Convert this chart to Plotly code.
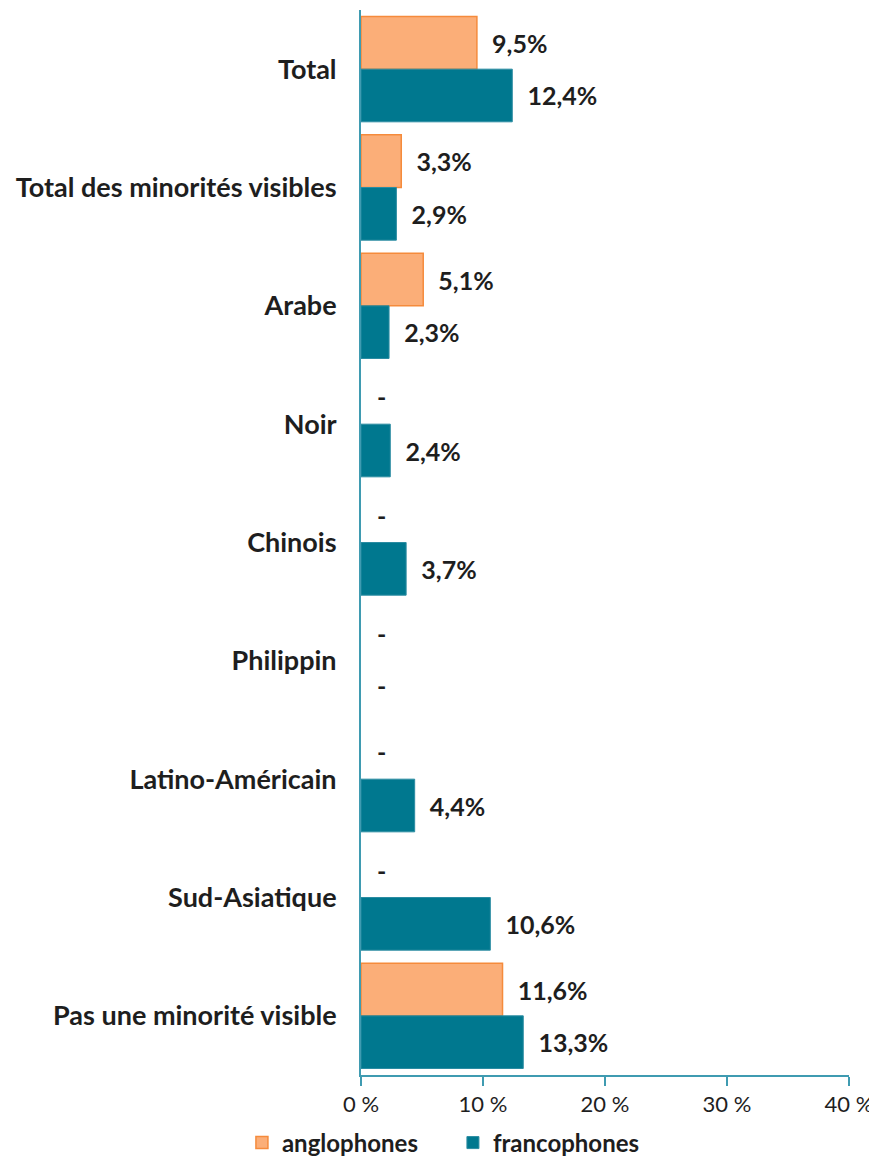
import plotly.graph_objects as go

categories = ["Total", "Total des minorités visibles", "Arabe", "Noir", "Chinois",
              "Philippin", "Latino-Américain", "Sud-Asiatique", "Pas une minorité visible"]
anglophones = [9.5, 3.3, 5.1, None, None, None, None, None, 11.6]
francophones = [12.4, 2.9, 2.3, 2.4, 3.7, None, 4.4, 10.6, 13.3]
tick_vals = [0, 10, 20, 30, 40]
tick_text = ["0 %", "10 %", "20 %", "30 %", "40 %"]

FONT = "Lato"
TXT = "#1e1e1e"
PAD = "\u00a0\u00a0"
LBL = 25


def fmt(v):
    return "" if v is None else PAD + f"{v:.1f}".replace(".", ",") + "%"


fig = go.Figure()
fig.add_trace(go.Bar(
    name="anglophones", y=categories, x=anglophones, orientation="h",
    marker=dict(color="#FBAE78", line=dict(color="#F58B3C", width=1.5)),
    text=[fmt(v) for v in anglophones], textposition="outside", cliponaxis=False,
    textfont=dict(family=FONT, size=LBL, color=TXT, weight="bold"),
))
fig.add_trace(go.Bar(
    name="francophones", y=categories, x=francophones, orientation="h",
    marker=dict(color="#00788F", line=dict(color="#2B8CA2", width=1)),
    text=[fmt(v) for v in francophones], textposition="outside", cliponaxis=False,
    textfont=dict(family=FONT, size=LBL, color=TXT, weight="bold"),
))

annotations = []
for series, shift in ((anglophones, 26), (francophones, -26)):
    for cat, v in zip(categories, series):
        if v is None:
            annotations.append(dict(
                x=0, y=cat, xref="x", yref="y", text="-", showarrow=False,
                xanchor="left", xshift=14, yshift=shift + 2,
                font=dict(family=FONT, size=LBL, color=TXT, weight="bold"),
            ))

fig.update_layout(
    width=869, height=1149,
    margin=dict(l=353, r=28, t=2, b=82),
    paper_bgcolor="white", plot_bgcolor="white",
    barmode="group", bargap=0.11, bargroupgap=0,
    showlegend=True,
    legend=dict(orientation="h", xref="container", x=0.512, xanchor="center",
                yref="container", y=0.0122, yanchor="middle",
                font=dict(family=FONT, size=24, color=TXT, weight="bold"),
                itemwidth=30, traceorder="normal", entrywidth=166),
    annotations=annotations,
    xaxis=dict(range=[0, 40], tickvals=tick_vals, ticktext=tick_text,
               showgrid=False, zeroline=False, showline=True, linecolor="#3F9BB1", linewidth=2,
               ticks="outside", ticklen=9, tickwidth=2, tickcolor="#3F9BB1",
               tickfont=dict(family=FONT, size=22, color=TXT)),
    yaxis=dict(categoryorder="array", categoryarray=categories, autorange="reversed",
               showgrid=False, zeroline=False, showline=True, linecolor="#3F9BB1", linewidth=2,
               ticks="", ticklabelstandoff=17,
               tickfont=dict(family=FONT, size=27, color=TXT, weight="bold")),
)

fig.write_html("out.html")
